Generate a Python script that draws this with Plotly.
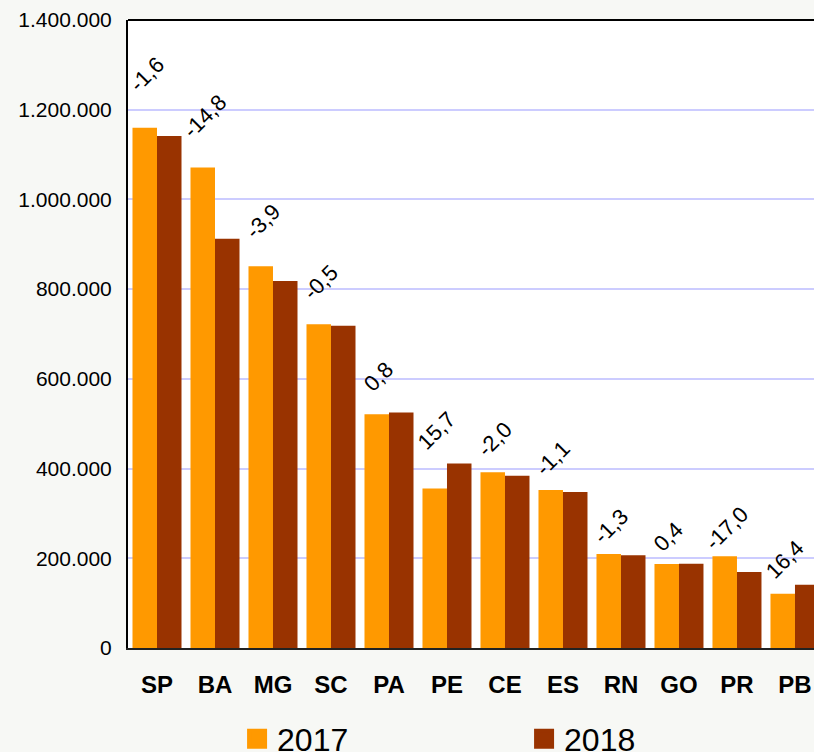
import plotly.graph_objects as go

# States and yearly totals
states = ["SP", "BA", "MG", "SC", "PA", "PE", "CE", "ES", "RN", "GO", "PR", "PB"]
values_2017 = [1160000, 1071000, 851000, 722000, 521000, 355500, 392000, 352000, 209500, 187000, 204500, 121000]
values_2018 = [1141500, 912500, 818000, 718500, 525000, 411300, 384000, 348000, 206800, 187700, 169700, 140800]
# Percentage change 2017 -> 2018
change_labels = ["-1,6", "-14,8", "-3,9", "-0,5", "0,8", "15,7", "-2,0", "-1,1", "-1,3", "0,4", "-17,0", "16,4"]
y_ticks = [0, 200000, 400000, 600000, 800000, 1000000, 1200000, 1400000]

ORANGE = "#FF9900"
BROWN = "#993300"
BG = "#F7F8F5"
FONT = "Liberation Sans, Arial, sans-serif"

fig = go.Figure()
fig.add_trace(go.Bar(x=states, y=values_2017, name="2017", marker_color=ORANGE,
                     marker_line_width=0, showlegend=False))
fig.add_trace(go.Bar(x=states, y=values_2018, name="2018", marker_color=BROWN,
                     marker_line_width=0, showlegend=False))

# Legend entries with large square swatches
for name, col in (("2017", ORANGE), ("2018", BROWN)):
    fig.add_trace(go.Scatter(x=[None], y=[None], mode="markers", name=name,
                             marker=dict(symbol="square", size=20, color=col,
                                         line=dict(color=col, width=4))))

# Rotated percentage labels above each pair of bars
for i, (lab, a, b) in enumerate(zip(change_labels, values_2017, values_2018)):
    fig.add_annotation(x=i - 0.18, y=max(a, b) * 1.06, text=lab, showarrow=False,
                       textangle=-45, xanchor="center", yanchor="middle", yshift=22,
                       font=dict(family=FONT, size=22, color="#000000"))

# Top border of the plot frame
fig.add_shape(type="line", xref="paper", yref="paper", x0=0, x1=1, y0=1, y1=1,
              line=dict(color="#000000", width=2))

fig.update_layout(
    width=814, height=752,
    margin=dict(l=128, r=0, t=20, b=104, autoexpand=False),
    paper_bgcolor=BG, plot_bgcolor="#FFFFFF",
    barmode="group", bargap=0.155, bargroupgap=0,
    separators=",.",
    font=dict(family=FONT, color="#000000"),
    legend=dict(orientation="h", x=0.159, xanchor="left", y=-0.101, yanchor="top",
                font=dict(family=FONT, size=32, color="#000000"),
                entrywidth=242, entrywidthmode="pixels",
                bgcolor="rgba(0,0,0,0)", itemclick=False),
    xaxis=dict(type="category", range=[-0.5, 11.328], showgrid=False,
               showline=True, linecolor="#222222", linewidth=2,
               ticks="", ticklabelstandoff=14,
               tickfont=dict(family=FONT, size=24, color="#000000", weight="bold")),
    yaxis=dict(range=[0, 1400000], tickvals=y_ticks, tickformat=",.0f",
               showgrid=True, gridcolor="#CCCCFF", gridwidth=2, zeroline=False,
               showline=True, linecolor="#000000", linewidth=2,
               ticks="", ticklabelstandoff=10,
               tickfont=dict(family=FONT, size=21, color="#000000")),
)

fig.write_html("out.html")
